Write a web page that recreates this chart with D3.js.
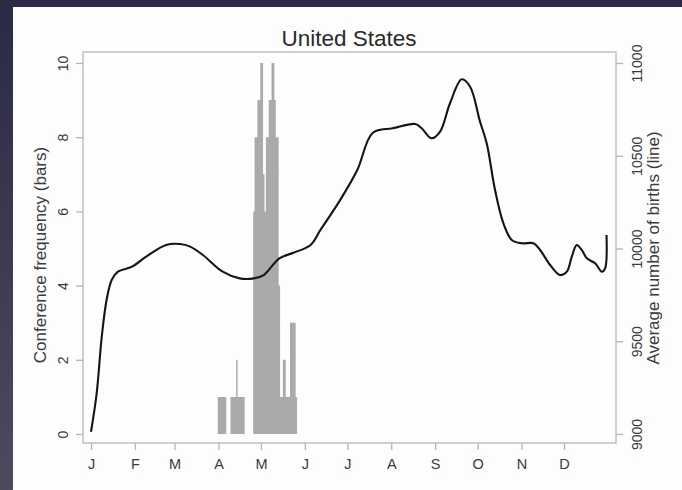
<!DOCTYPE html>
<html>
<head>
<meta charset="utf-8">
<script src="https://cdn.jsdelivr.net/npm/d3@7"></script>
<style>
  html, body { margin: 0; padding: 0; background: #fdfdfd; }
  body { width: 682px; height: 490px; overflow: hidden; }
  svg { display: block; font-family: "Liberation Sans", Arial, Helvetica, sans-serif; }
</style>
</head>
<body>
<svg id="chart" width="682" height="490"></svg>
<script>
// Conference counts per day of year (days not listed have none)
const confDays   = [91, 92, 93, 94, 95, 96,
                    100, 101, 102, 103, 104, 105, 106, 107, 108, 109,
                    116, 117, 118, 119, 120, 121, 122, 123, 124, 125, 126, 127, 128, 129, 130, 131, 132, 133, 134,
                    135, 136, 137, 138, 139, 140, 141, 142, 143, 144, 145, 146];
const confCounts = [1, 1, 1, 1, 1, 1,
                    1, 1, 1, 1, 2, 1, 1, 1, 1, 1,
                    6, 8, 8, 9, 9, 10, 10, 7, 6, 8, 8, 9, 9, 10, 10, 9, 8, 8, 4,
                    1, 1, 2, 2, 1, 1, 1, 3, 3, 3, 3, 1];

// Smoothed average number of births by day of year
const birthDays   = [1, 5, 8.6, 12, 15.6, 20, 30, 40, 54, 64, 71, 80, 94, 106, 116, 123, 134, 144, 156, 163,
                     177, 189, 200, 214, 230, 234.5, 241.5, 247.5, 254.5, 262.8, 268.7, 275.7, 280.4, 286.3,
                     292.2, 298.1, 305.2, 313.4, 318.1, 325.2, 332.2, 337, 340.5, 344, 347.5, 351.1, 357,
                     361.7, 364, 365];
const birthValues = [9012, 9219, 9525, 9722, 9830, 9875, 9902, 9956, 10019, 10024, 10010, 9965, 9875, 9839, 9839, 9857, 9947, 9977, 10019, 10100,
                     10262, 10423, 10624, 10648, 10671, 10648, 10594, 10630, 10783, 10912, 10872, 10684, 10567, 10315,
                     10136, 10046, 10028, 10028, 9992, 9911, 9857, 9875, 9956, 10019, 9992, 9947, 9920,
                     9875, 9893, 10073];

// Month axis
const monthStarts = [1, 32, 60, 91, 121, 152, 182, 213, 244, 274, 305, 335];
const monthLabels = ["J", "F", "M", "A", "M", "J", "J", "A", "S", "O", "N", "D"];
const leftTicks  = [0, 2, 4, 6, 8, 10];
const rightTicks = [9000, 9500, 10000, 10500, 11000];

const titleText  = "United States";
const leftTitle  = "Conference frequency (bars)";
const rightTitle = "Average number of births (line)";

const svg = d3.select("#chart");
const W = 682, H = 490;

// Backdrop and page card
const defs = svg.append("defs");
const grad = defs.append("linearGradient").attr("id", "bg").attr("x1", 0).attr("y1", 0).attr("x2", 0).attr("y2", 1);
grad.append("stop").attr("offset", "0%").attr("stop-color", "#2b2a44");
grad.append("stop").attr("offset", "100%").attr("stop-color", "#4c4b5e");
svg.append("rect").attr("width", W).attr("height", H).attr("fill", "url(#bg)");
svg.append("rect").attr("x", 13).attr("y", 7).attr("width", W - 13).attr("height", H - 7).attr("fill", "#fdfdfd");

// Plot region
const L = 83, R = 616, T = 52, B = 443;
const x = d3.scaleLinear().domain([-4.65, 371.7]).range([L, R]);
const y = d3.scaleLinear().domain([-0.243, 10.296]).range([B, T]);
const yR = d3.scaleLinear().domain([8951.4, 11059.3]).range([B, T]);

// Bars: one bar per day, each one day wide. Adjacent days are traced as one
// stepped outline so neighbouring bars join without seams.
const countByDay = new Map(confDays.map((d, i) => [d, confCounts[i]]));
const firstDay = d3.min(confDays), lastDay = d3.max(confDays);
const steps = d3.range(firstDay, lastDay + 1).map(d => ({ edge: d - 0.5, n: countByDay.get(d) || 0 }));
steps.push({ edge: lastDay + 0.5, n: 0 });
const barArea = d3.area()
  .x(d => x(d.edge))
  .y0(y(0))
  .y1(d => y(d.n))
  .curve(d3.curveStepAfter);
svg.append("path")
  .attr("d", barArea(steps))
  .attr("fill", "#aaaaaa");

// Births line
const line = d3.line()
  .x((d, i) => x(birthDays[i]))
  .y(d => yR(d))
  .curve(d3.curveCatmullRom.alpha(0.5));
svg.append("path")
  .attr("d", line(birthValues))
  .attr("fill", "none")
  .attr("stroke", "#151515")
  .attr("stroke-width", 2.1)
  .attr("stroke-linejoin", "round");

// Frame
svg.append("rect")
  .attr("x", L).attr("y", T).attr("width", R - L).attr("height", B - T)
  .attr("fill", "none").attr("stroke", "#c4c4c4").attr("stroke-width", 1.6);

function styleAxis(g) {
  g.select(".domain").remove();
  g.selectAll(".tick line").attr("stroke", "#b5b5b5").attr("stroke-width", 1.3);
  g.selectAll(".tick text").attr("fill", "#3a3a3a").style("font-size", "14px");
}

// Bottom axis
svg.append("g")
  .attr("transform", `translate(0,${B})`)
  .call(d3.axisBottom(x).tickValues(monthStarts).tickFormat((d, i) => monthLabels[i]).tickSize(7).tickPadding(9))
  .call(styleAxis)
  .call(g => g.selectAll(".tick text").style("font-size", "14.5px"));

// Left axis with rotated labels
svg.append("g")
  .attr("transform", `translate(${L},0)`)
  .call(d3.axisLeft(y).tickValues(leftTicks).tickFormat(d3.format("d")).tickSize(7))
  .call(styleAxis)
  .call(g => g.selectAll(".tick text")
    .attr("x", null).attr("dy", "0.35em").attr("text-anchor", "middle")
    .attr("transform", "translate(-20,0) rotate(-90)"));

// Right axis with rotated labels
svg.append("g")
  .attr("transform", `translate(${R},0)`)
  .call(d3.axisRight(yR).tickValues(rightTicks).tickFormat(d3.format("d")).tickSize(7))
  .call(styleAxis)
  .call(g => g.selectAll(".tick text")
    .attr("x", null).attr("dy", "0.35em").attr("text-anchor", "middle")
    .attr("transform", "translate(21,0) rotate(-90)"));

// Titles
svg.append("text")
  .attr("x", 349).attr("y", 46).attr("text-anchor", "middle")
  .attr("fill", "#2a2a2a").style("font-size", "22.5px")
  .text(titleText);

svg.append("text")
  .attr("transform", "translate(40,255) rotate(-90)")
  .attr("dy", "0.35em").attr("text-anchor", "middle")
  .attr("fill", "#3a3a3a").style("font-size", "17px")
  .text(leftTitle);

svg.append("text")
  .attr("transform", "translate(653,248) rotate(-90)")
  .attr("dy", "0.35em").attr("text-anchor", "middle")
  .attr("fill", "#3a3a3a").style("font-size", "17px")
  .text(rightTitle);
</script>
</body>
</html>
